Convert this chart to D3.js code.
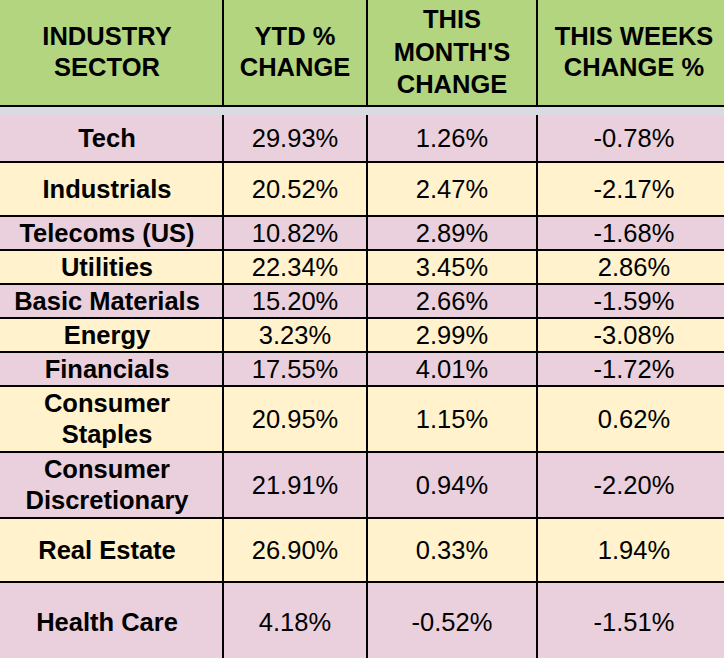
<!DOCTYPE html>
<html>
<head>
<meta charset="utf-8">
<script src="https://cdn.jsdelivr.net/npm/d3@7/dist/d3.min.js"></script>
<style>
  html, body { margin: 0; padding: 0; background: #ffffff; }
  svg { display: block; }
</style>
</head>
<body>
<svg id="chart" width="724" height="658"></svg>
<script>
// ---- data ----
const headers = [
  ["INDUSTRY", "SECTOR"],
  ["YTD %", "CHANGE"],
  ["THIS", "MONTH'S", "CHANGE"],
  ["THIS WEEKS", "CHANGE %"]
];
const sectors = [
  ["Tech"], ["Industrials"], ["Telecoms (US)"], ["Utilities"], ["Basic Materials"],
  ["Energy"], ["Financials"], ["Consumer", "Staples"], ["Consumer", "Discretionary"],
  ["Real Estate"], ["Health Care"]
];
const ytdChange   = ["29.93%", "20.52%", "10.82%", "22.34%", "15.20%", "3.23%", "17.55%", "20.95%", "21.91%", "26.90%", "4.18%"];
const monthChange = ["1.26%", "2.47%", "2.89%", "3.45%", "2.66%", "2.99%", "4.01%", "1.15%", "0.94%", "0.33%", "-0.52%"];
const weekChange  = ["-0.78%", "-2.17%", "-1.68%", "2.86%", "-1.59%", "-3.08%", "-1.72%", "0.62%", "-2.20%", "1.94%", "-1.51%"];

// ---- layout ----
const W = 724, H = 658;
const colEdges = [-9, 223, 367, 537, 731];
const headerBottom = 106, bandTop = 107, bodyTop = 115;
const rowEdges = [115, 162, 216, 250, 284, 318, 352, 386, 452, 518, 582, 700];
const colors = { header: "#b3d580", band: "#d8dbe2", pink: "#e9d0dc", yellow: "#fff2cc", line: "#000000" };
const font = "'Liberation Sans', Arial, Helvetica, sans-serif";
const fs = 25.5, lh = 31;

const svg = d3.select("#chart");

const x = d3.scaleOrdinal().domain(d3.range(4)).range(d3.range(4).map(i => (colEdges[i] + colEdges[i + 1]) / 2));
const rowTop = d3.scaleOrdinal().domain(d3.range(sectors.length)).range(rowEdges.slice(0, -1));
const rowBot = d3.scaleOrdinal().domain(d3.range(sectors.length)).range(rowEdges.slice(1));

// header background
svg.append("rect").attr("x", 0).attr("y", 0).attr("width", W).attr("height", headerBottom).attr("fill", colors.header);
svg.append("rect").attr("x", 0).attr("y", bandTop).attr("width", W).attr("height", bodyTop - bandTop).attr("fill", colors.band);

// row backgrounds
const rows = sectors.map((s, i) => ({ i, lines: s, cells: [s, [ytdChange[i]], [monthChange[i]], [weekChange[i]]] }));
svg.append("g").selectAll("rect").data(rows).join("rect")
  .attr("x", 0).attr("y", d => rowTop(d.i)).attr("width", W)
  .attr("height", d => rowBot(d.i) - rowTop(d.i))
  .attr("fill", d => d.i % 2 === 0 ? colors.pink : colors.yellow);

// grid lines
const grid = svg.append("g").attr("stroke", colors.line).attr("stroke-width", 2);
grid.append("line").attr("x1", 0).attr("x2", W).attr("y1", headerBottom).attr("y2", headerBottom);
rowEdges.slice(1, -1).forEach(y => grid.append("line").attr("x1", 0).attr("x2", W).attr("y1", y).attr("y2", y));
colEdges.slice(1, -1).forEach(cx => {
  grid.append("line").attr("x1", cx).attr("x2", cx).attr("y1", 0).attr("y2", headerBottom);
  grid.append("line").attr("x1", cx).attr("x2", cx).attr("y1", bodyTop).attr("y2", H);
});

function drawLines(g, lines, cx, cy, bold) {
  const n = lines.length;
  const base = cy + 8.5 - (n - 1) * lh / 2;
  lines.forEach((t, k) => {
    g.append("text")
      .attr("x", cx).attr("y", base + k * lh)
      .attr("text-anchor", "middle")
      .attr("font-family", font).attr("font-size", fs)
      .attr("font-weight", bold ? "bold" : "normal")
      .attr("fill", "#000")
      .text(t);
  });
}

// header text
const hg = svg.append("g");
headers.forEach((h, c) => {
  const lhH = h.length === 3 ? 32.5 : 31;
  const base = 52 + 8.5 - (h.length - 1) * lhH / 2;
  h.forEach((t, k) => {
    hg.append("text").attr("x", x(c)).attr("y", base + k * lhH)
      .attr("text-anchor", "middle").attr("font-family", font)
      .attr("font-size", fs).attr("font-weight", "bold").attr("fill", "#000").text(t);
  });
});

// body text
const bg = svg.append("g");
rows.forEach(r => {
  const top = rowTop(r.i), bot = r.i === rows.length - 1 ? 662 : rowBot(r.i);
  const cy = (top + bot) / 2;
  r.cells.forEach((cell, c) => drawLines(bg, cell, x(c), cy, c === 0));
});
</script>
</body>
</html>
